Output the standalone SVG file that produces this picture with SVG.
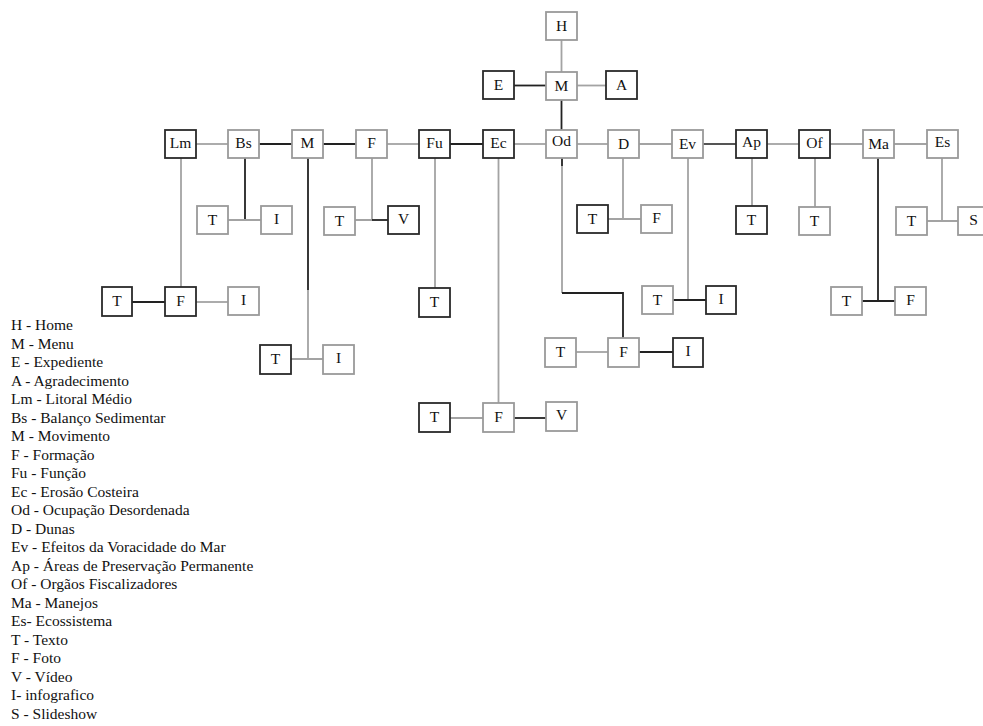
<svg xmlns="http://www.w3.org/2000/svg" width="983" height="726" viewBox="0 0 983 726">
<style>
rect{fill:#fff;stroke-width:1.8}
.d rect{stroke:#2a2a2a}
.g rect{stroke:#9a9a9a}
.n text{font-family:"Liberation Serif",serif;font-size:15.5px;fill:#111;text-anchor:middle}
.k{stroke:#222;stroke-width:1.8;fill:none}
.y{stroke:#a3a3a3;stroke-width:1.8;fill:none}
.lg{font-family:"Liberation Serif",serif;font-size:15.5px;fill:#111}
</style>
<rect x="0" y="0" width="983" height="726" fill="#fff" stroke="none"/>
<g id="connectors">
<path class="y" d="M561.5 40V72"/>
<path class="k" d="M514 85.5H546"/>
<path class="y" d="M577 85.5H606"/>
<path class="k" d="M561.5 100V130"/>
<path class="y" d="M196 144H228"/>
<path class="k" d="M259 144H292"/>
<path class="k" d="M323 144H356"/>
<path class="y" d="M387 144H419"/>
<path class="k" d="M450 144H483"/>
<path class="y" d="M514 144H546"/>
<path class="y" d="M577 144H608"/>
<path class="y" d="M639 144H672"/>
<path class="k" d="M703 144H736" style="stroke:#555"/>
<path class="y" d="M767 144H799"/>
<path class="y" d="M830 144H863"/>
<path class="y" d="M894 144H927"/>
<path class="y" d="M181 158V287"/>
<path class="k" d="M245 158V220"/>
<path class="y" d="M228 220H261"/>
<path class="k" d="M308 158V290"/>
<path class="y" d="M308 290V359M291 359H323"/>
<path class="y" d="M372 158V220M355 220H372"/>
<path class="k" d="M372 220H388"/>
<path class="y" d="M435 158V288"/>
<path class="y" d="M498.5 158V403"/>
<path class="k" d="M562 158V166"/>
<path class="y" d="M562 166V293"/>
<path class="k" d="M562 293H623V338"/>
<path class="y" d="M623 158V219M607 219H641"/>
<path class="y" d="M688 158V300"/>
<path class="k" d="M673 300H706"/>
<path class="y" d="M752 158V206"/>
<path class="y" d="M815 158V207"/>
<path class="k" d="M878 158V301M862 301H895"/>
<path class="y" d="M942 158V221M927 221H958"/>
<path class="k" d="M132 302H165"/>
<path class="y" d="M196 302H228"/>
<path class="y" d="M576 352H608"/>
<path class="k" d="M639 352H673"/>
<path class="y" d="M450 418H483"/>
<path class="k" d="M514 418H546"/>
</g>
<g id="H" class="n g"><rect x="546" y="12" width="31" height="28"/><text x="561.5" y="31">H</text></g>
<g id="M" class="n g"><rect x="546" y="72" width="31" height="28"/><text x="561.5" y="91">M</text></g>
<g id="E" class="n d"><rect x="483" y="71" width="31" height="28"/><text x="498.5" y="90">E</text></g>
<g id="A" class="n d"><rect x="606" y="71" width="31" height="28"/><text x="621.5" y="90">A</text></g>
<g id="Lm" class="n d"><rect x="165" y="130" width="31" height="28"/><text x="180.5" y="148">Lm</text></g>
<g id="Bs" class="n g"><rect x="228" y="130" width="31" height="28"/><text x="243.5" y="148">Bs</text></g>
<g id="Mv" class="n g"><rect x="292" y="130" width="31" height="28"/><text x="307.5" y="148">M</text></g>
<g id="Fo" class="n g"><rect x="356" y="130" width="31" height="28"/><text x="371.5" y="148">F</text></g>
<g id="Fu" class="n d"><rect x="419" y="130" width="31" height="28"/><text x="434.5" y="148">Fu</text></g>
<g id="Ec" class="n d"><rect x="483" y="130" width="31" height="28"/><text x="498.5" y="148">Ec</text></g>
<g id="Od" class="n g"><rect x="546" y="130" width="31" height="28"/><text x="561.5" y="146">Od</text></g>
<g id="D" class="n g"><rect x="608" y="130" width="31" height="28"/><text x="623.5" y="149">D</text></g>
<g id="Ev" class="n g"><rect x="672" y="130" width="31" height="28"/><text x="687.5" y="149">Ev</text></g>
<g id="Ap" class="n d"><rect x="736" y="130" width="31" height="28"/><text x="751.5" y="147">Ap</text></g>
<g id="Of" class="n d"><rect x="799" y="130" width="31" height="28"/><text x="814.5" y="148">Of</text></g>
<g id="Ma" class="n g"><rect x="863" y="130" width="31" height="28"/><text x="878.5" y="149">Ma</text></g>
<g id="Es" class="n g"><rect x="927" y="130" width="31" height="28"/><text x="942.5" y="147">Es</text></g>
<g id="Bs_T" class="n g"><rect x="197" y="206" width="31" height="28"/><text x="212.5" y="225">T</text></g>
<g id="Bs_I" class="n g"><rect x="261" y="206" width="31" height="28"/><text x="276.5" y="224">I</text></g>
<g id="Fo_T" class="n g"><rect x="324" y="207" width="31" height="28"/><text x="339.5" y="226">T</text></g>
<g id="Fo_V" class="n d"><rect x="388" y="206" width="31" height="28"/><text x="403.5" y="224">V</text></g>
<g id="D_T" class="n d"><rect x="577" y="205" width="31" height="28"/><text x="592.5" y="224">T</text></g>
<g id="D_F" class="n g"><rect x="641" y="205" width="31" height="28"/><text x="656.5" y="223">F</text></g>
<g id="Ap_T" class="n d"><rect x="736" y="206" width="31" height="28"/><text x="751.5" y="225">T</text></g>
<g id="Of_T" class="n g"><rect x="799" y="207" width="31" height="28"/><text x="814.5" y="226">T</text></g>
<g id="Es_T" class="n g"><rect x="896" y="207" width="31" height="28"/><text x="911.5" y="226">T</text></g>
<g id="Es_S" class="n g"><rect x="958" y="207" width="31" height="28"/><text x="973.5" y="225">S</text></g>
<g id="Lm_T" class="n d"><rect x="102" y="287" width="30" height="29"/><text x="117" y="306">T</text></g>
<g id="Lm_F" class="n d"><rect x="165" y="287" width="31" height="29"/><text x="180.5" y="306">F</text></g>
<g id="Lm_I" class="n g"><rect x="228" y="287" width="31" height="28"/><text x="243.5" y="305">I</text></g>
<g id="Fu_T" class="n d"><rect x="419" y="288" width="31" height="29"/><text x="434.5" y="307">T</text></g>
<g id="Ev_T" class="n g"><rect x="642" y="286" width="31" height="28"/><text x="657.5" y="305">T</text></g>
<g id="Ev_I" class="n d"><rect x="706" y="286" width="30" height="28"/><text x="721" y="304">I</text></g>
<g id="Ma_T" class="n g"><rect x="831" y="287" width="31" height="28"/><text x="846.5" y="306">T</text></g>
<g id="Ma_F" class="n g"><rect x="895" y="287" width="31" height="28"/><text x="910.5" y="305">F</text></g>
<g id="Mv_T" class="n d"><rect x="260" y="345" width="31" height="29"/><text x="275.5" y="364">T</text></g>
<g id="Mv_I" class="n g"><rect x="323" y="345" width="31" height="29"/><text x="338.5" y="363">I</text></g>
<g id="Od_T" class="n g"><rect x="545" y="338" width="31" height="29"/><text x="560.5" y="357">T</text></g>
<g id="Od_F" class="n g"><rect x="608" y="338" width="31" height="29"/><text x="623.5" y="357">F</text></g>
<g id="Od_I" class="n d"><rect x="673" y="338" width="30" height="29"/><text x="688" y="356">I</text></g>
<g id="Ec_T" class="n d"><rect x="419" y="403" width="31" height="29"/><text x="434.5" y="422">T</text></g>
<g id="Ec_F" class="n g"><rect x="483" y="403" width="31" height="29"/><text x="498.5" y="422">F</text></g>
<g id="Ec_V" class="n g"><rect x="546" y="402" width="31" height="29"/><text x="561.5" y="420">V</text></g>
<g id="legend">
<text class="lg" x="11" y="330">H - Home</text>
<text class="lg" x="11" y="348.5">M - Menu</text>
<text class="lg" x="11" y="367">E - Expediente</text>
<text class="lg" x="11" y="385.5">A - Agradecimento</text>
<text class="lg" x="11" y="404">Lm - Litoral Médio</text>
<text class="lg" x="11" y="422.6">Bs - Balanço Sedimentar</text>
<text class="lg" x="11" y="441.1">M - Movimento</text>
<text class="lg" x="11" y="459.6">F - Formação</text>
<text class="lg" x="11" y="478.2">Fu - Função</text>
<text class="lg" x="11" y="496.7">Ec - Erosão Costeira</text>
<text class="lg" x="11" y="515.2">Od - Ocupação Desordenada</text>
<text class="lg" x="11" y="533.7">D - Dunas</text>
<text class="lg" x="11" y="552.2">Ev - Efeitos da Voracidade do Mar</text>
<text class="lg" x="11" y="570.8">Ap - Áreas de Preservação Permanente</text>
<text class="lg" x="11" y="589.3">Of - Orgãos Fiscalizadores</text>
<text class="lg" x="11" y="607.8">Ma - Manejos</text>
<text class="lg" x="11" y="626.3">Es- Ecossistema</text>
<text class="lg" x="11" y="644.8">T - Texto</text>
<text class="lg" x="11" y="663.4">F - Foto</text>
<text class="lg" x="11" y="681.9">V - Vídeo</text>
<text class="lg" x="11" y="700.4">I- infografico</text>
<text class="lg" x="11" y="718.9">S - Slideshow</text>
</g>
</svg>
